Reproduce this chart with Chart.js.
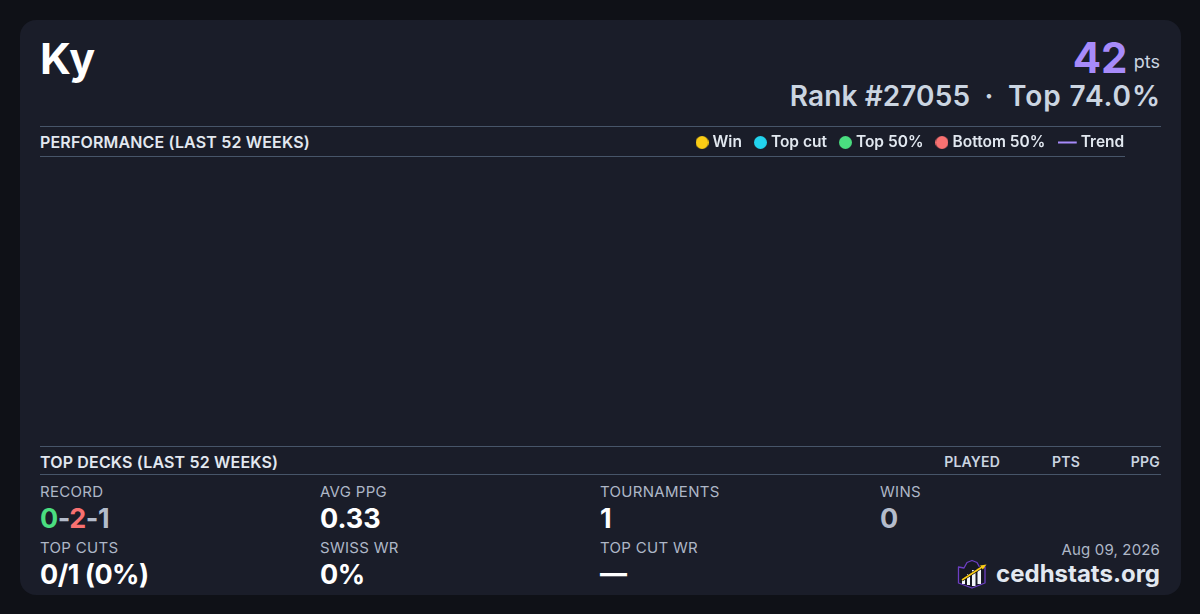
<!DOCTYPE html>
<html>
<head>
<meta charset="utf-8">
<title>Ky</title>
<script src="https://cdn.jsdelivr.net/npm/chart.js@4"></script>
<style>
  html, body { margin: 0; padding: 0; width: 1200px; height: 614px; overflow: hidden; background: #0f1117; font-family: Inter, sans-serif; }
  #card { position: absolute; left: 20px; top: 20px; width: 1161px; height: 575px; background: #1a1d29; border-radius: 16px; }
  .t { position: absolute; white-space: pre; line-height: 1; }
  .r { text-align: right; }
  .rule { position: absolute; height: 1px; background: #475569; }
  .head { font-size: 16px; font-weight: 600; color: #e2e8f0; letter-spacing: 0.16px; }
  .col { font-size: 14px; font-weight: 600; color: #cbd5e1; letter-spacing: 0.2px; }
  .lab { font-size: 15px; font-weight: 400; color: #aeb7c7; letter-spacing: 0.3px; }
  .val { font-size: 27px; font-weight: 700; color: #fff; }
  .dim { color: #b4bccb; }
  #wrap { position: absolute; left: 40px; top: 119px; width: 1100px; height: 327px; }
</style>
</head>
<body>
<div id="card"></div>

<div class="t" style="left:40px;top:37px;font-size:43px;font-weight:700;color:#fff">Ky</div>
<div class="t r" style="right:72.5px;top:37px;font-size:42px;font-weight:700;color:#a78bfa">42</div>
<div class="t r" style="right:40px;top:53px;font-size:18px;color:#cbd5e1">pts</div>
<div class="t r" style="right:39px;top:82px;font-size:28px;font-weight:600;color:#cbd5e1"><span style="letter-spacing:0.1px">Rank #27055</span><span style="word-spacing:0.2px">  ·  </span><span style="letter-spacing:0.9px">Top 74.0%</span></div>

<div class="rule" style="left:40px;top:126px;width:1121px"></div>
<div class="t head" style="left:40px;top:134px">PERFORMANCE (LAST 52 WEEKS)</div>
<div class="rule" style="left:40px;top:156px;width:1085px"></div>

<div id="wrap"><canvas id="perf"></canvas></div>

<div class="rule" style="left:40px;top:446px;width:1121px"></div>
<div class="t head" style="left:40px;top:454px">TOP DECKS (LAST 52 WEEKS)</div>
<div class="t col r" style="right:200px;top:455px">PLAYED</div>
<div class="t col r" style="right:120px;top:455px">PTS</div>
<div class="t col r" style="right:40px;top:455px">PPG</div>
<div class="rule" style="left:40px;top:474px;width:1121px"></div>

<div class="t lab" style="left:40px;top:484px">RECORD</div>
<div class="t val dim" style="left:40px;top:505px;letter-spacing:-0.5px"><span style="color:#4ade80">0</span>-<span style="color:#f87171">2</span>-1</div>
<div class="t lab" style="left:320px;top:484px">AVG PPG</div>
<div class="t val" style="left:320px;top:505px">0.33</div>
<div class="t lab" style="left:600px;top:484px">TOURNAMENTS</div>
<div class="t val" style="left:600px;top:505px">1</div>
<div class="t lab" style="left:880px;top:484px">WINS</div>
<div class="t val dim" style="left:880px;top:505px">0</div>

<div class="t lab" style="left:40px;top:540px">TOP CUTS</div>
<div class="t val" style="left:40px;top:561px;letter-spacing:-0.5px">0/1 (0%)</div>
<div class="t lab" style="left:320px;top:540px">SWISS WR</div>
<div class="t val" style="left:320px;top:561px;letter-spacing:-0.5px">0%</div>
<div class="t lab" style="left:600px;top:540px">TOP CUT WR</div>
<div class="t val" style="left:600px;top:560px">—</div>

<div class="t r lab" style="right:40px;top:542px;letter-spacing:0.15px">Aug 09, 2026</div>
<div class="t r" style="right:40px;top:562px;font-size:24px;font-weight:700;color:#e2e8f0">cedhstats.org</div>
<svg style="position:absolute;left:957px;top:559px" width="30" height="30" viewBox="0 0 30 30">
  <path d="M1.5 8 L7 9 L10 3.5 L15 1.5 L20 3.5 L23 9 L28 8 L28 24 L15 29 L1.5 24 Z" fill="#161823" stroke="#6d3fc4" stroke-width="1.3" stroke-linejoin="round"/>
  <rect x="5" y="19" width="3" height="6" fill="#f1f5f9"/>
  <rect x="10" y="15" width="3" height="11" fill="#f1f5f9"/>
  <rect x="15" y="11" width="3.5" height="16" fill="#f1f5f9"/>
  <rect x="20.5" y="9" width="3.5" height="16" fill="#f1f5f9"/>
  <path d="M5 21 L25 8" stroke="#111" stroke-width="3"/>
  <path d="M5 21 L25 8" stroke="#facc15" stroke-width="1.6"/>
  <path d="M29.5 5.5 L23 6.5 L25.8 10.5 Z" fill="#facc15"/>
</svg>

<script>
// nothing was played in the window, so the plot stays empty
const weeks = [];
const winValues = [];
const topCutValues = [];
const top50Values = [];
const bottom50Values = [];
const trendValues = [];

const seriesNames = ["Win", "Top cut", "Top 50%", "Bottom 50%\u00A0", "\u2009Trend"];
const seriesColors = ["#facc15", "#22d3ee", "#4ade80", "#f87171", "#a78bfa"];

function dot(color) {
  const c = document.createElement("canvas");
  c.width = 13;
  c.height = 13;
  const g = c.getContext("2d");
  g.fillStyle = color;
  g.beginPath();
  g.arc(6.5, 6.5, 6.5, 0, Math.PI * 2);
  g.fill();
  return c;
}

function dash(color) {
  const c = document.createElement("canvas");
  c.width = 20;
  c.height = 4;
  const g = c.getContext("2d");
  g.fillStyle = color;
  g.fillRect(0, 1, 19, 2);
  return c;
}

const ctx = document.getElementById("perf").getContext("2d");
const myChart = new Chart(ctx, {
  type: "scatter",
  data: {
    labels: weeks,
    datasets: [
      { label: seriesNames[0], data: winValues, backgroundColor: seriesColors[0], pointStyle: dot(seriesColors[0]) },
      { label: seriesNames[1], data: topCutValues, backgroundColor: seriesColors[1], pointStyle: dot(seriesColors[1]) },
      { label: seriesNames[2], data: top50Values, backgroundColor: seriesColors[2], pointStyle: dot(seriesColors[2]) },
      { label: seriesNames[3], data: bottom50Values, backgroundColor: seriesColors[3], pointStyle: dot(seriesColors[3]) },
      { type: "line", label: seriesNames[4], data: trendValues, borderColor: seriesColors[4], pointStyle: dash(seriesColors[4]) },
    ],
  },
  options: {
    responsive: true,
    maintainAspectRatio: false,
    animation: false,
    layout: { padding: 0 },
    scales: {
      x: { display: false },
      y: { display: false },
    },
    plugins: {
      tooltip: { enabled: false },
      legend: {
        position: "top",
        align: "end",
        labels: {
          usePointStyle: true,
          pointStyleWidth: 5.5,
          boxHeight: 15.5,
          padding: 15.75,
          color: "#e2e8f0",
          font: { family: "Inter", size: 15.5, weight: "600" },
        },
      },
    },
  },
});
</script>
</body>
</html>
